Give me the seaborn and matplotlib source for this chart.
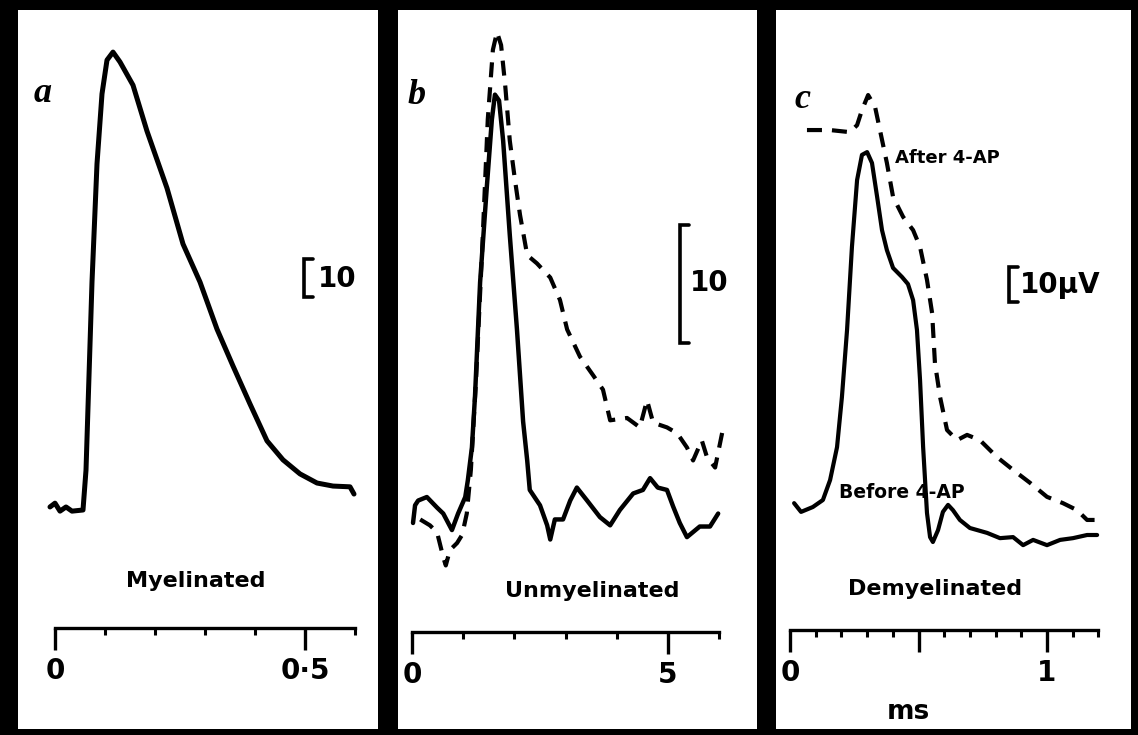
import matplotlib
matplotlib.use("Agg")
import matplotlib.pyplot as plt
import seaborn as sns
from matplotlib.ticker import FixedLocator

# ---------------- data (time in ms, amplitude in scale-bar units) ----------------
a_time = [-0.010, 0.000, 0.010, 0.022, 0.034, 0.056, 0.062, 0.068, 0.074, 0.084, 0.094,
          0.104, 0.116, 0.130, 0.156, 0.184, 0.224, 0.256, 0.290, 0.324, 0.356, 0.390,
          0.424, 0.456, 0.490, 0.524, 0.556, 0.590, 0.598]
a_amp = [0.8, 1.8, -0.3, 0.8, -0.3, 0.0, 10.5, 35.3, 60.0, 91.1, 109.5,
         118.4, 120.5, 117.9, 111.8, 99.7, 84.7, 70.0, 60.0, 47.6, 37.9, 27.9,
         18.2, 13.2, 9.5, 7.1, 6.3, 6.1, 4.2]

b_time_before = [0.02, 0.06, 0.12, 0.29, 0.49, 0.61, 0.78, 0.90, 1.04, 1.09, 1.17, 1.23,
                 1.33, 1.46, 1.56, 1.62, 1.70, 1.78, 1.91, 2.05, 2.17, 2.25, 2.30, 2.50,
                 2.64, 2.70, 2.79, 2.95, 3.09, 3.22, 3.42, 3.67, 3.87, 4.06, 4.32, 4.51,
                 4.65, 4.80, 4.98, 5.10, 5.23, 5.37, 5.62, 5.82, 5.98]
b_amp_before = [-1.1, 0.4, 0.8, 1.1, 0.2, -0.3, -1.7, -0.3, 1.1, 2.5, 5.3, 9.6,
                19.3, 27.3, 33.1, 35.2, 34.7, 31.3, 23.3, 15.3, 7.5, 4.2, 1.7, 0.4,
                -1.3, -2.5, -0.8, -0.8, 0.8, 1.9, 0.8, -0.6, -1.3, 0.0, 1.4, 1.7,
                2.7, 1.9, 1.7, 0.3, -1.1, -2.3, -1.4, -1.4, -0.3]
b_time_after = [0.16, 0.35, 0.49, 0.61, 0.66, 0.74, 0.88, 0.98, 1.07, 1.15, 1.25, 1.37,
                1.48, 1.58, 1.66, 1.74, 1.82, 1.91, 2.01, 2.11, 2.25, 2.44, 2.70, 2.89,
                3.03, 3.28, 3.54, 3.73, 3.87, 4.20, 4.45, 4.59, 4.71, 4.98, 5.18, 5.37,
                5.49, 5.66, 5.76, 5.92, 6.07]
b_amp_after = [-0.8, -1.3, -1.9, -4.0, -4.7, -3.4, -2.8, -2.1, -0.3, 3.4, 11.0, 22.0,
               33.1, 39.0, 40.5, 39.4, 36.0, 31.3, 28.0, 25.0, 21.6, 20.9, 19.7, 17.8,
               15.3, 13.0, 11.4, 10.2, 7.6, 7.8, 7.0, 9.3, 7.4, 7.0, 6.5, 5.3,
               4.2, 5.9, 4.5, 3.6, 6.8]

c_time_before = [0.016, 0.043, 0.089, 0.128, 0.156, 0.183, 0.202, 0.222, 0.241, 0.261,
                 0.280, 0.300, 0.319, 0.339, 0.358, 0.377, 0.401, 0.436, 0.459, 0.479,
                 0.494, 0.506, 0.518, 0.533, 0.545, 0.556, 0.576, 0.595, 0.615, 0.634,
                 0.661, 0.700, 0.767, 0.817, 0.868, 0.907, 0.946, 1.000, 1.051, 1.101,
                 1.156, 1.195]
c_amp_before = [9.1, 6.6, 8.0, 10.0, 15.7, 25.1, 39.4, 58.6, 82.3, 101.4,
                108.6, 109.4, 106.3, 96.6, 87.1, 81.4, 76.3, 73.7, 71.7, 67.1,
                58.6, 44.3, 25.1, 6.3, -0.6, -2.0, 1.4, 6.6, 8.6, 7.1,
                4.3, 2.0, 0.6, -0.9, -0.6, -2.9, -1.4, -2.9, -1.4, -0.9,
                0.0, 0.0]
c_time_after = [0.066, 0.156, 0.233, 0.261, 0.280, 0.304, 0.331, 0.350, 0.377, 0.401,
                0.440, 0.479, 0.506, 0.533, 0.553, 0.564, 0.584, 0.611, 0.650, 0.689,
                0.739, 0.805, 0.868, 0.934, 1.000, 1.062, 1.117, 1.156, 1.187]
c_amp_after = [115.7, 115.7, 115.1, 117.1, 121.4, 125.7, 122.3, 115.7, 106.3, 96.6,
               90.9, 87.1, 82.3, 72.9, 63.4, 49.1, 39.4, 30.0, 27.1, 28.6,
               27.1, 22.3, 18.6, 14.9, 10.9, 9.1, 7.1, 4.3, 4.3]

a_major, a_major_labels, a_minor = [0, 0.5], ["0", "0·5"], [0.1, 0.2, 0.3, 0.4, 0.6]
b_major, b_major_labels, b_minor = [0, 5], ["0", "5"], [1, 2, 3, 4, 6]
c_major, c_major_labels = [0, 0.5, 1.0], ["0", "", "1"]
c_minor = [0.1, 0.2, 0.3, 0.4, 0.6, 0.7, 0.8, 0.9, 1.1, 1.2]

panel_letters = ["a", "b", "c"]
panel_titles = ["Myelinated", "Unmyelinated", "Demyelinated"]
scale_value = 10
scale_labels = ["10", "10", "10µV"]
c_curve_labels = ["After 4-AP", "Before 4-AP"]
time_unit = "ms"

# ---------------- layout (pixels) ----------------
W, H = 1138, 735
sns.set_theme(style="white")
plt.rcParams["font.family"] = ["DejaVu Sans"]

fig = plt.figure(figsize=(W / 100, H / 100), dpi=100, facecolor="black")

panels = [
    dict(box=(18, 10, 378, 729), origin=(55, 510), sx=500.0, sy=3.8, ruler=628,
         major=a_major, labels=a_major_labels, minor=a_minor,
         bar=(304, 297), letter=(43, 93), title=(196, 581), barlab=(318, 279), lw=3.6),
    dict(box=(398, 10, 757, 729), origin=(412, 510), sx=51.2, sy=11.8, ruler=632,
         major=b_major, labels=b_major_labels, minor=b_minor,
         bar=(680, 343), letter=(417, 96), title=(592, 591), barlab=(690, 283), lw=3.2),
    dict(box=(776, 10, 1131, 729), origin=(790, 535), sx=257.0, sy=3.5, ruler=630,
         major=c_major, labels=c_major_labels, minor=c_minor,
         bar=(1009, 302), letter=(802, 99), title=(935, 589), barlab=(1020, 285), lw=3.0),
]
curves = [
    [(a_time, a_amp, "-")],
    [(b_time_before, b_amp_before, "-"), (b_time_after, b_amp_after, "--")],
    [(c_time_before, c_amp_before, "-"), (c_time_after, c_amp_after, "--")],
]


def fx(px):
    return px / W


def fy(py):
    return 1 - py / H


for i, p in enumerate(panels):
    x1, y1, x2, y2 = p["box"]
    ox, oy = p["origin"]
    sx, sy = p["sx"], p["sy"]
    ax = fig.add_axes([fx(x1), fy(y2), (x2 - x1) / W, (y2 - y1) / H])
    ax.set_facecolor("white")

    for t, v, style in curves[i]:
        if style == "-":
            sns.lineplot(x=t, y=v, ax=ax, color="black", linewidth=p["lw"],
                         estimator=None, sort=False)
        else:
            sns.lineplot(x=t, y=v, ax=ax, color="black", linewidth=3.0,
                         estimator=None, sort=False, linestyle=(0, (3.6, 2.4)))

    ax.set_xlim((x1 - ox) / sx, (x2 - ox) / sx)
    ax.set_ylim((oy - y2) / sy, (oy - y1) / sy)
    ax.set_xlabel("")
    ax.set_ylabel("")
    ax.grid(False)

    # time ruler drawn with the real x axis
    for s in ["left", "right", "top"]:
        ax.spines[s].set_visible(False)
    sp = ax.spines["bottom"]
    sp.set_visible(True)
    sp.set_color("black")
    sp.set_linewidth(2.4)
    sp.set_position(("data", (oy - p["ruler"]) / sy))
    sp.set_bounds(0, max(p["minor"] + p["major"]))
    ax.set_yticks([])
    ax.set_xticks(p["major"])
    ax.set_xticklabels(p["labels"], fontsize=20, fontweight="bold")
    ax.xaxis.set_minor_locator(FixedLocator(p["minor"]))
    ax.tick_params(axis="x", which="major", direction="out", length=16, width=2.4,
                   pad=5, colors="black", bottom=True)
    ax.tick_params(axis="x", which="minor", direction="out", length=5, width=2.2,
                   colors="black", bottom=True)

    # amplitude scale bar
    bx, bby = p["bar"]
    xb = (bx - ox) / sx
    yb = (oy - bby) / sy
    serif = 9 / sx
    ax.plot([xb + serif, xb, xb, xb + serif], [yb + scale_value, yb + scale_value, yb, yb],
            color="black", linewidth=2.6, solid_joinstyle="miter")
    fig.text(fx(p["barlab"][0]), fy(p["barlab"][1]), scale_labels[i], fontsize=20,
             fontweight="bold", ha="left", va="center", color="black")

    fig.text(fx(p["letter"][0]), fy(p["letter"][1]), panel_letters[i], fontsize=26,
             fontweight="bold", fontstyle="italic", family="Liberation Serif",
             ha="center", va="center", color="black")
    fig.text(fx(p["title"][0]), fy(p["title"][1]), panel_titles[i], fontsize=16,
             fontweight="bold", ha="center", va="center", color="black")

fig.text(fx(947), fy(158), c_curve_labels[0], fontsize=13, fontweight="bold",
         ha="center", va="center", color="black")
fig.text(fx(902), fy(493), c_curve_labels[1], fontsize=13.5, fontweight="bold",
         ha="center", va="center", color="black")
fig.text(fx(908), fy(712), time_unit, fontsize=19, fontweight="bold",
         ha="center", va="center", color="black")

fig.savefig("out.png", dpi=100, facecolor="black")
